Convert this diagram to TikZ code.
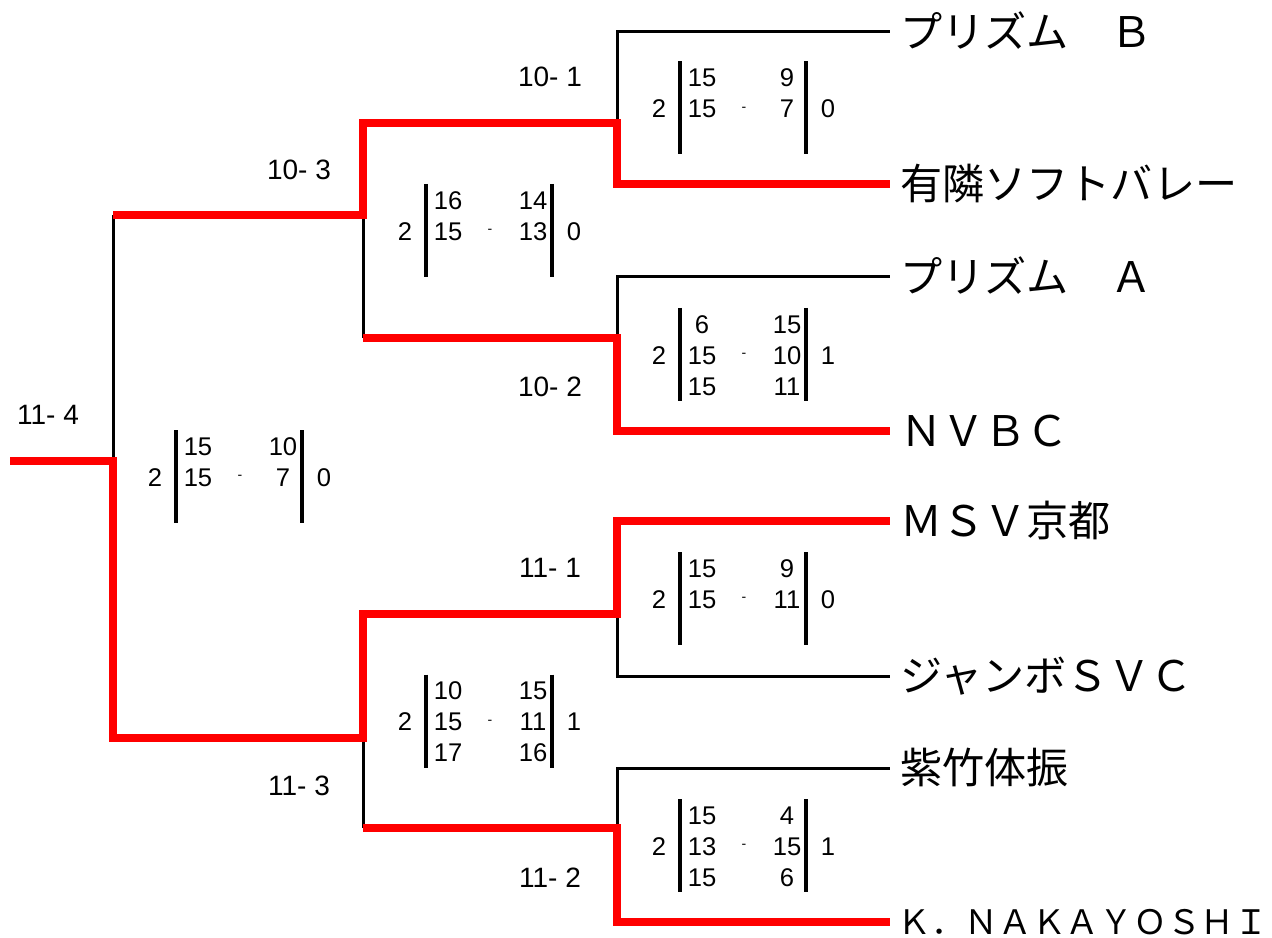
\documentclass[tikz,border=0pt]{standalone}
\usepackage{fontspec}
\setmainfont{Liberation Sans}
\newfontfamily\jpfont{Noto Sans CJK JP}
\newcommand{\scoreblock}[6]{%
  \node[score] (#1-l) at ({#2+42},{#3+1}) {#4};
  \node[score] (#1-r) at ({#2+211},{#3+1}) {#5};
  \node[dashmark] (#1-d) at ({#2+127},{#3+1}) {-};
  \coordinate (#1-p1) at ({#2+63},{#3-46.5});
  \coordinate (#1-q1) at ({#2+63},{#3+46.5});
  \coordinate (#1-p2) at ({#2+189},{#3-46.5});
  \coordinate (#1-q2) at ({#2+189},{#3+46.5});
  \draw[bar] (#1-p1) -- (#1-q1);
  \draw[bar] (#1-p2) -- (#1-q2);
  \foreach \lscore/\rscore [count=\i] in {#6} {
    \node[score] (#1-a\i) at ({#2+85},{#3+1+31*(\i-2)}) {\lscore};
    \node[score] (#1-b\i) at ({#2+170},{#3+1+31*(\i-2)}) {\rscore};
  }%
}
\begin{document}
\begin{tikzpicture}[x=0.75pt,y=-0.75pt,
  lose/.style={draw=black,line width=2.25pt},
  win/.style={draw=red,line width=5.6pt},
  bar/.style={draw=black,line width=2.3pt},
  score/.style={inner sep=0pt,font=\fontsize{19.2}{21}\selectfont},
  dashmark/.style={inner sep=0pt,font=\fontsize{10.5}{11}\selectfont},
  matchlabel/.style={inner sep=0pt,font=\fontsize{21}{24}\selectfont},
  team/.style={anchor=base west,inner xsep=7.5pt,inner ysep=0pt,font=\jpfont\fontsize{31.6}{34}\selectfont},
  teamsmall/.style={anchor=base west,inner xsep=5.25pt,inner ysep=0pt,font=\jpfont\fontsize{25.3}{28}\selectfont}]
\useasboundingbox (0,0) rectangle (1272,938);

% bracket points
\coordinate (root) at (10,461);
\coordinate (c) at (113,461);
\coordinate (ft) at (113,215);
\coordinate (b1) at (363,215);
\coordinate (sb1) at (363,338);
\coordinate (b2) at (363,738);
\coordinate (sb2) at (363,828);
\coordinate (a1) at (617,123);
\coordinate (a2) at (617,338);
\coordinate (a3) at (617,614);
\coordinate (a4) at (617,828);
\coordinate (e1) at (890,32);
\coordinate (e2) at (890,184);
\coordinate (e3) at (890,277);
\coordinate (e4) at (890,431);
\coordinate (e5) at (890,521);
\coordinate (e6) at (890,676);
\coordinate (e7) at (890,768);
\coordinate (e8) at (890,922);

% losing lines
\draw[lose] (ft) -- (c);
\draw[lose] (b1) -- (sb1);
\draw[lose] (b2) -- (sb2);
\draw[lose] (a1) |- (e1);
\draw[lose] (a2) |- (e3);
\draw[lose] (a3) |- (e6);
\draw[lose] (a4) |- (e7);

% winning lines
\draw[win] (root) -- (c) |- (b2) |- (a3) |- (e5);
\draw[win] (ft) -- (b1) |- (a1) |- (e2);
\draw[win] (sb1) -- (a2) |- (e4);
\draw[win] (sb2) -- (a4) |- (e8);

% team names
\node[team] (n1) at ([yshift=-11.4pt]e1) {プリズム　Ｂ};
\node[team] (n2) at ([yshift=-11.4pt]e2) {有隣ソフトバレー};
\node[team] (n3) at ([yshift=-11.4pt]e3) {プリズム　Ａ};
\node[team] (n4) at ([yshift=-11.4pt]e4) {ＮＶＢＣ};
\node[team] (n5) at ([yshift=-11.4pt]e5) {ＭＳＶ京都};
\node[team] (n6) at ([yshift=-11.4pt]e6) {ジャンボＳＶＣ};
\node[team] (n7) at ([yshift=-11.4pt]e7) {紫竹体振};
\node[teamsmall] (n8) at ([yshift=-9pt]e8) {Ｋ．ＮＡＫＡＹＯＳＨＩ};

% match labels
\node[matchlabel] (m101) at (550,77) {10- 1};
\node[matchlabel] (m102) at (550,387) {10- 2};
\node[matchlabel] (m103) at (299,170) {10- 3};
\node[matchlabel] (m114) at (48,415) {11- 4};
\node[matchlabel] (m111) at (550,568) {11- 1};
\node[matchlabel] (m112) at (550,878) {11- 2};
\node[matchlabel] (m113) at (299,786) {11- 3};

% scores
\scoreblock{qa}{617}{108}{2}{0}{15/9,15/7}
\scoreblock{qb}{617}{354.5}{2}{1}{6/15,15/10,15/11}
\scoreblock{qc}{617}{598.5}{2}{0}{15/9,15/11}
\scoreblock{qd}{617}{845.5}{2}{1}{15/4,13/15,15/6}
\scoreblock{sa}{363}{230.5}{2}{0}{16/14,15/13}
\scoreblock{sb}{363}{721}{2}{1}{10/15,15/11,17/16}
\scoreblock{fi}{113}{476.5}{2}{0}{15/10,15/7}
\end{tikzpicture}
\end{document}
